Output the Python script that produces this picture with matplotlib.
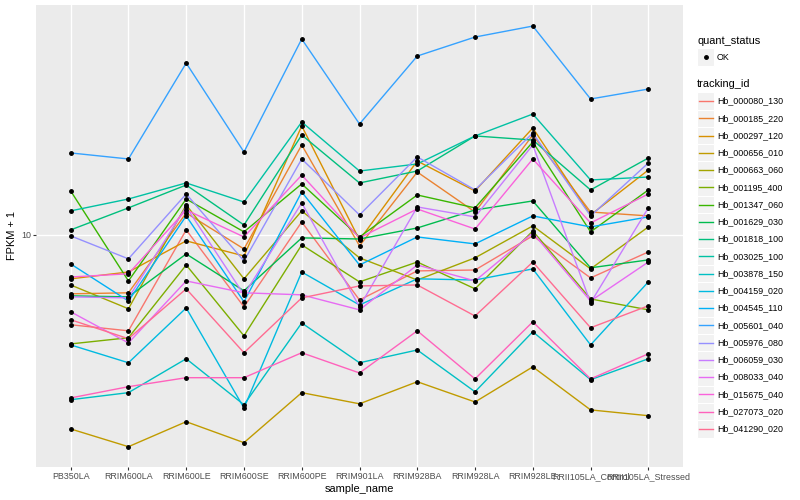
import matplotlib
matplotlib.use("Agg")
import matplotlib.pyplot as plt
from matplotlib.patches import Rectangle
from matplotlib.lines import Line2D
from matplotlib.ticker import NullLocator

plt.rcParams['font.family'] = ['Liberation Sans', 'DejaVu Sans']

samples = ["PB350LA", "RRIM600LA", "RRIM600LE", "RRIM600SE", "RRIM600PE", "RRIM901LA",
           "RRIM928BA", "RRIM928LA", "RRIM928LE", "RRII105LA_Control", "RRII105LA_Stressed"]

tracking_ids = ["Hb_000080_130", "Hb_000185_220", "Hb_000297_120", "Hb_000656_010",
                "Hb_000663_060", "Hb_001195_400", "Hb_001347_060", "Hb_001629_030",
                "Hb_001818_100", "Hb_003025_100", "Hb_003878_150", "Hb_004159_020",
                "Hb_004545_110", "Hb_005601_040", "Hb_005976_080", "Hb_006059_030",
                "Hb_008033_040", "Hb_015675_040", "Hb_027073_020", "Hb_041290_020"]

colors = ["#F8766D", "#EA8331", "#D89000", "#C09B00", "#A3A500", "#7CAE00", "#39B600",
          "#00BB4E", "#00BF7D", "#00C1A3", "#00BFC4", "#00BAE0", "#00B0F6", "#35A2FF",
          "#9590FF", "#C77CFF", "#E76BF3", "#FA62DB", "#FF62BC", "#FF6C91"]

Hb_000080_130 = [6.11, 5.91, 10.28, 6.74, 10.74, 7.00, 8.21, 8.25, 9.95, 7.90, 9.11]
Hb_000185_220 = [7.24, 7.28, 11.28, 9.26, 16.38, 9.42, 14.12, 11.34, 17.30, 11.34, 11.10]
Hb_000297_120 = [7.86, 8.16, 9.68, 8.91, 18.18, 9.73, 15.00, 12.73, 17.98, 11.16, 14.28]
Hb_000656_010 = [3.45, 3.13, 3.59, 3.20, 4.21, 3.96, 4.47, 4.00, 4.85, 3.83, 3.71]
Hb_000663_060 = [7.60, 6.67, 11.79, 7.86, 11.41, 8.82, 7.81, 8.82, 10.51, 8.30, 10.45]
Hb_001195_400 = [5.50, 5.69, 8.48, 5.75, 9.47, 7.73, 8.62, 7.44, 10.22, 7.04, 6.63]
Hb_001347_060 = [12.73, 7.77, 12.18, 10.17, 13.23, 9.89, 12.45, 11.60, 16.65, 10.17, 12.80]
Hb_001629_030 = [7.16, 7.12, 9.01, 7.36, 9.84, 9.78, 10.39, 11.47, 12.05, 8.35, 8.72]
Hb_001818_100 = [10.28, 11.60, 13.15, 10.56, 17.30, 13.30, 14.20, 17.21, 16.83, 12.80, 15.25]
Hb_003025_100 = [11.41, 12.18, 13.30, 11.98, 18.58, 14.20, 14.76, 17.21, 19.41, 13.52, 13.74]
Hb_003878_150 = [4.05, 4.21, 5.07, 3.94, 6.17, 4.96, 5.32, 4.23, 5.88, 4.52, 5.07]
Hb_004159_020 = [5.47, 4.96, 6.70, 3.87, 8.16, 6.81, 7.86, 7.81, 8.30, 5.47, 7.73]
Hb_004545_110 = [8.53, 6.96, 11.10, 6.93, 12.66, 8.48, 9.89, 9.52, 11.10, 10.45, 11.04]
Hb_005601_040 = [15.68, 15.17, 25.67, 15.76, 29.29, 18.38, 26.68, 29.61, 31.45, 21.08, 22.26]
Hb_005976_080 = [9.95, 8.77, 12.52, 8.67, 15.17, 11.16, 15.34, 12.80, 17.49, 11.10, 14.84]
Hb_006059_030 = [7.12, 7.08, 11.66, 7.20, 11.92, 6.74, 11.66, 11.04, 16.38, 6.89, 11.60]
Hb_008033_040 = [6.56, 5.53, 7.77, 7.28, 7.20, 6.63, 8.48, 7.77, 10.11, 6.96, 8.62]
Hb_015675_040 = [7.94, 8.08, 11.47, 9.89, 13.89, 9.84, 11.53, 10.33, 15.17, 10.68, 12.52]
Hb_027073_020 = [4.09, 4.35, 4.57, 4.57, 5.24, 4.69, 5.91, 4.54, 6.21, 4.54, 5.21]
Hb_041290_020 = [6.28, 5.66, 7.44, 5.24, 7.08, 7.56, 7.60, 6.41, 8.62, 6.01, 6.78]

series = [Hb_000080_130, Hb_000185_220, Hb_000297_120, Hb_000656_010, Hb_000663_060,
          Hb_001195_400, Hb_001347_060, Hb_001629_030, Hb_001818_100, Hb_003025_100,
          Hb_003878_150, Hb_004159_020, Hb_004545_110, Hb_005601_040, Hb_005976_080,
          Hb_006059_030, Hb_008033_040, Hb_015675_040, Hb_027073_020, Hb_041290_020]

W, H = 800, 500
fig = plt.figure(figsize=(W / 100, H / 100), dpi=100)
ax = fig.add_axes([36 / W, 33 / H, 647 / W, 462 / H])
ax.set_facecolor('#EBEBEB')
for s in ax.spines.values():
    s.set_visible(False)

xs = list(range(len(samples)))
for vals, c in zip(series, colors):
    ax.plot(xs, vals, color=c, lw=1.0, zorder=2)
for vals in series:
    ax.plot(xs, vals, linestyle='none', marker='o', markersize=2.5,
            color='black', zorder=3)

ax.set_yscale('log')
ax.set_ylim(2.80, 35.3)
ax.set_xlim(-0.6, len(samples) - 0.4)
ax.set_yticks([10])
ax.set_yticklabels(['10'])
ax.yaxis.set_minor_locator(NullLocator())
ax.set_xticks(xs)
ax.set_xticklabels(samples)
ax.grid(True, color='white', lw=1.0)
ax.set_axisbelow(True)
ax.tick_params(axis='both', length=2.0, width=0.8, color='#333333',
               labelcolor='#4D4D4D', labelsize=6.4, pad=1.6)
ax.set_xlabel('sample_name', fontsize=7.9, labelpad=2.5)
ax.set_ylabel('FPKM + 1', fontsize=7.9, labelpad=3)


def fx(px):
    return px / W


def fy(py):
    return 1 - py / H


# legend: quant_status
fig.text(fx(697), fy(41), 'quant_status', fontsize=7.9, va='center', ha='left')
fig.add_artist(Rectangle((fx(697), fy(57 + 8.6)), 17.2 / W, 17.2 / H,
                         transform=fig.transFigure, facecolor='#F2F2F2',
                         edgecolor='white', lw=0.8))
fig.add_artist(Line2D([fx(705.6)], [fy(57)], transform=fig.transFigure,
                      marker='o', markersize=2.5, color='black', linestyle='none'))
fig.text(fx(717), fy(57), 'OK', fontsize=6.4, va='center', ha='left')

# legend: tracking_id
fig.text(fx(697), fy(84), 'tracking_id', fontsize=7.9, va='center', ha='left')
step = 17.26
for i, (name, c) in enumerate(zip(tracking_ids, colors)):
    yc = 101 + i * step
    fig.add_artist(Rectangle((fx(697), fy(yc + step / 2)), 17.2 / W, step / H,
                             transform=fig.transFigure, facecolor='#F2F2F2',
                             edgecolor='white', lw=0.8))
    fig.add_artist(Line2D([fx(699), fx(712.5)], [fy(yc), fy(yc)],
                          transform=fig.transFigure, color=c, lw=1.0))
    fig.text(fx(717), fy(yc), name, fontsize=6.4, va='center', ha='left')

fig.savefig('out.png', dpi=100)
